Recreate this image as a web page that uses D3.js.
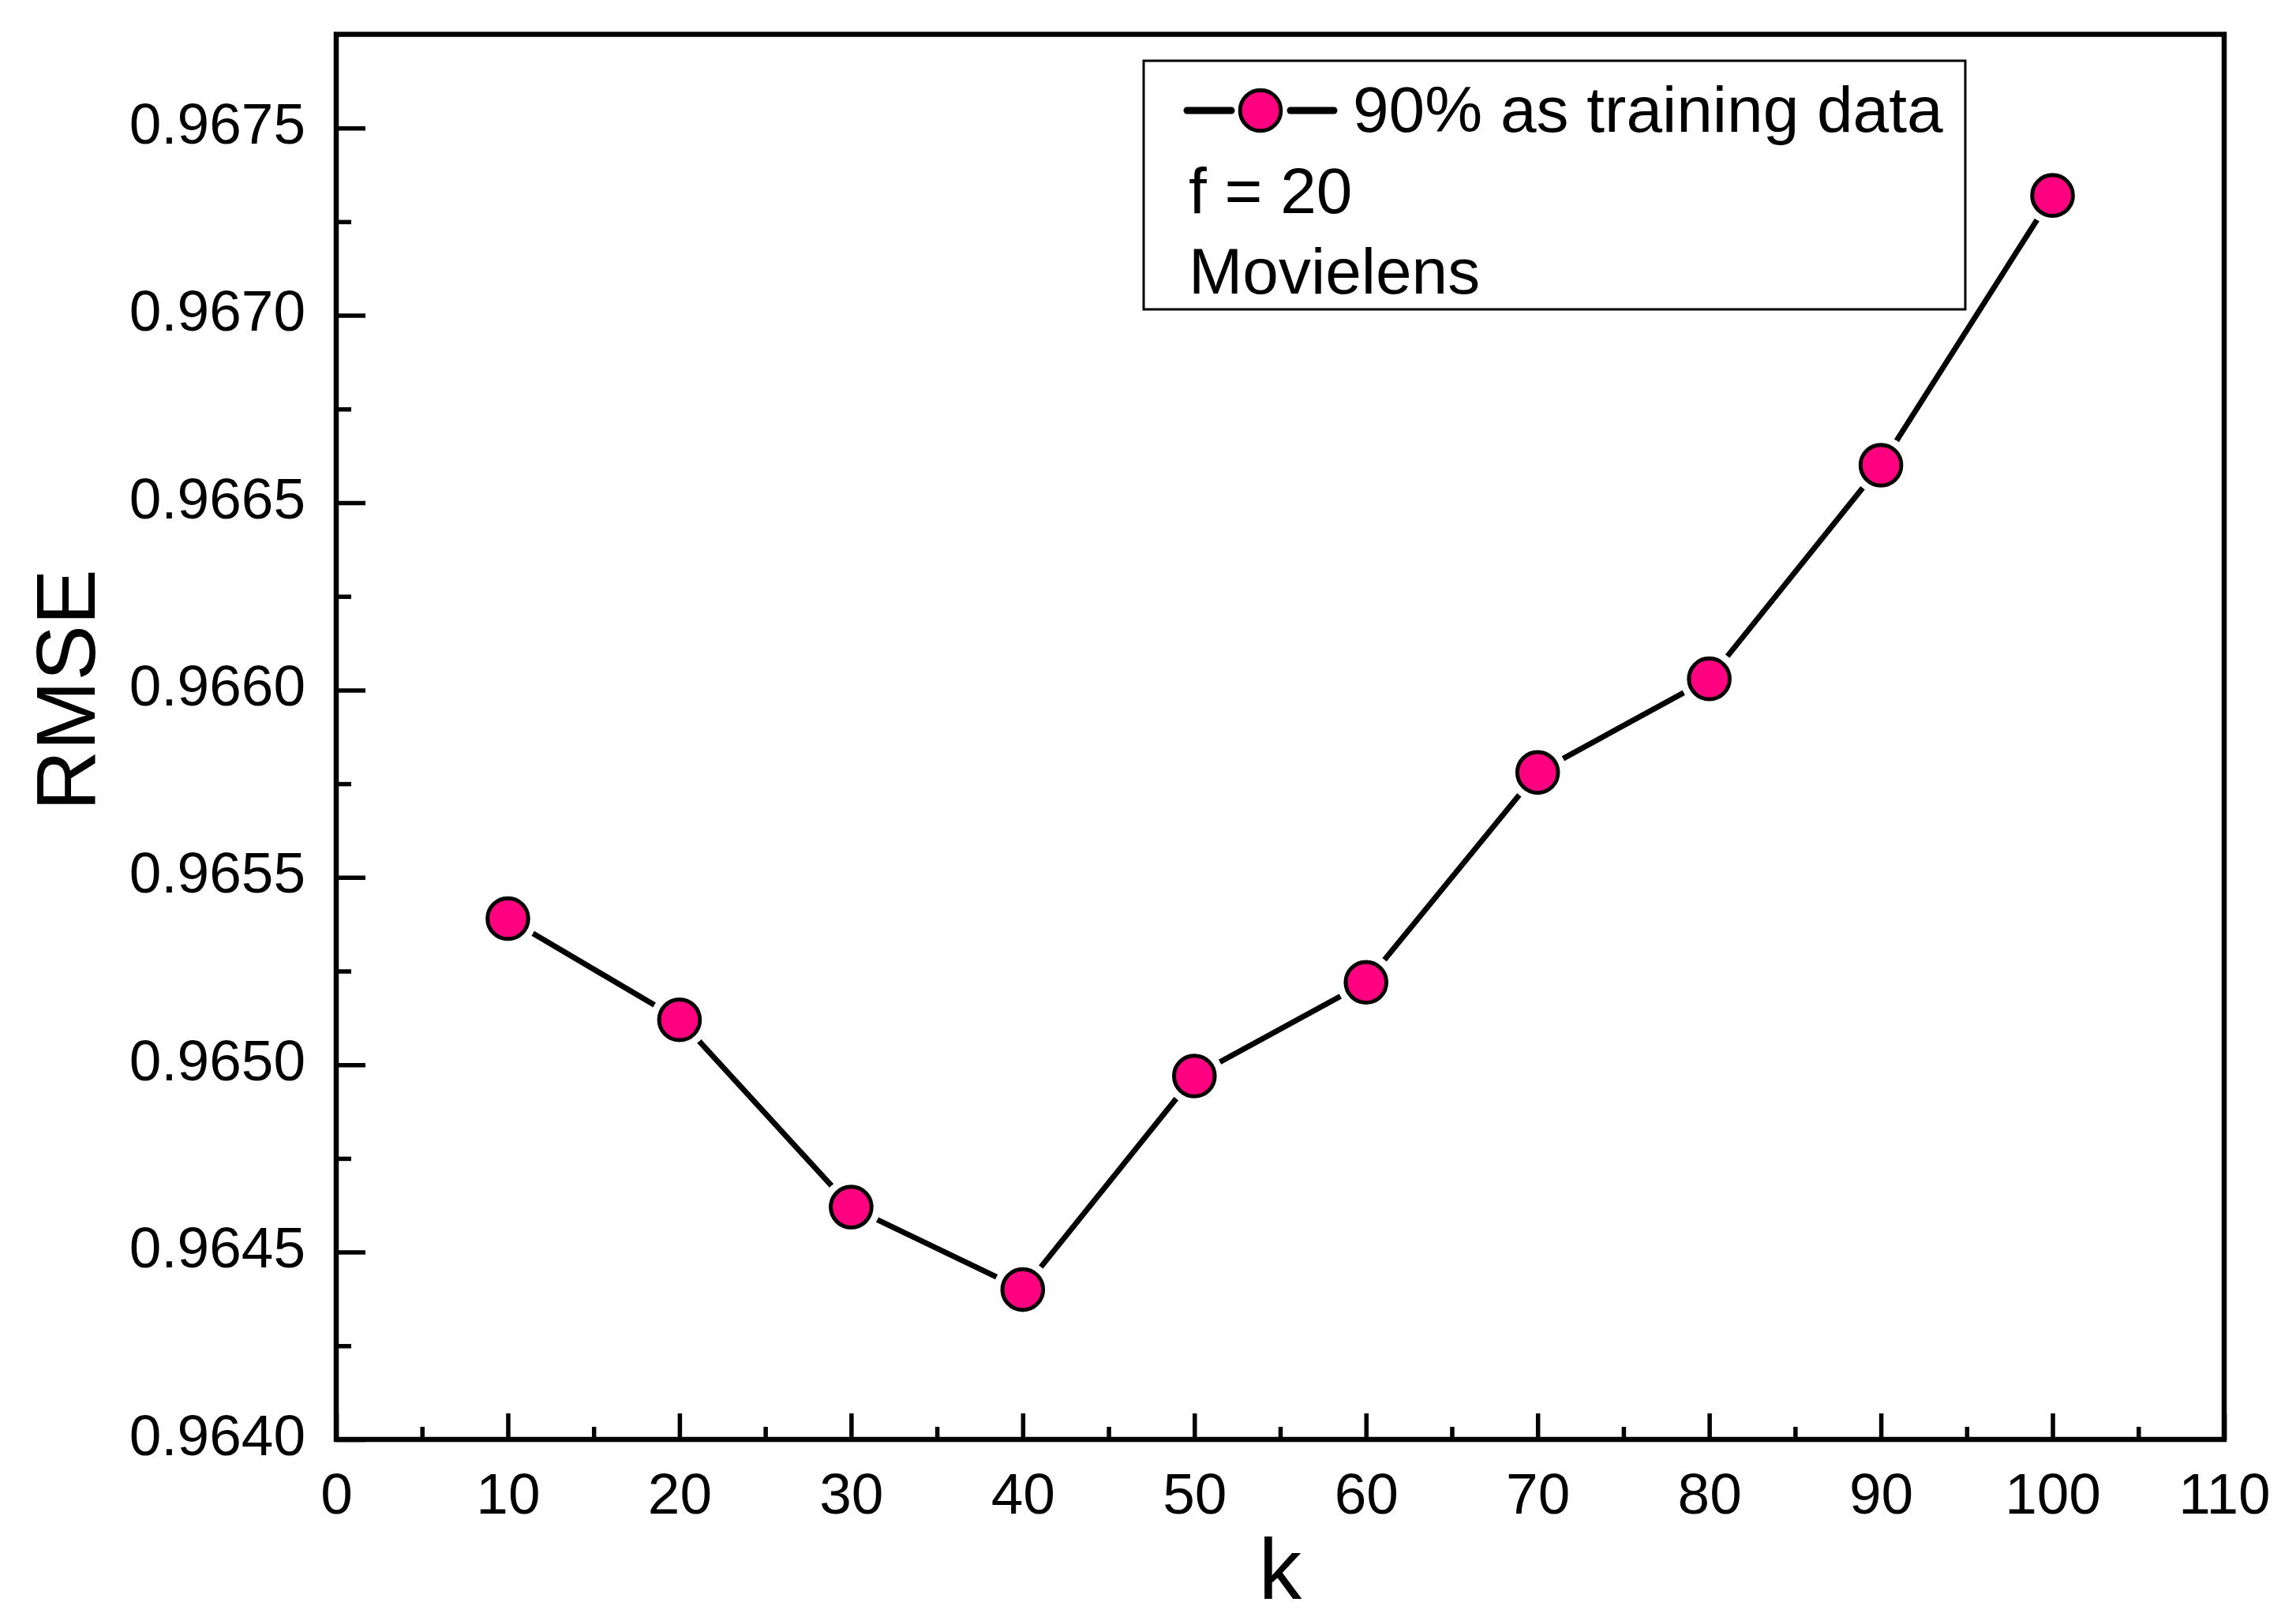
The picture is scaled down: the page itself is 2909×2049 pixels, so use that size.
<!DOCTYPE html>
<html>
<head>
<meta charset="utf-8">
<script src="https://cdn.jsdelivr.net/npm/d3@7"></script>
<style>
    body { margin: 0; background: #fff; }
    svg { display: block; }
    text { font-family: "Liberation Sans", Arial, sans-serif; fill: #000; }
</style>
</head>
<body>
<div id="chart"></div>
<script>
// Datos
const kValues = [10, 20, 30, 40, 50, 60, 70, 80, 90, 100];
const rmseValues = [0.96539, 0.96512, 0.96462, 0.96440, 0.96497, 0.96522, 0.96578, 0.96603, 0.96660, 0.96732];
const xMajorTicks = [0, 10, 20, 30, 40, 50, 60, 70, 80, 90, 100, 110];
const xMinorTicks = [5, 15, 25, 35, 45, 55, 65, 75, 85, 95, 105];
const yMajorTicks = [0.9640, 0.9645, 0.9650, 0.9655, 0.9660, 0.9665, 0.9670, 0.9675];
const yMinorTicks = [0.96425, 0.96475, 0.96525, 0.96575, 0.96625, 0.96675, 0.96725];
const legendLines = ['f = 20', 'Movielens'];
const seriesName = '90% as training data';

const width = 2909;
const height = 2049;
const margin = { left: 426, right: 2909 - 2818, top: 43.5, bottom: 2049 - 1824 };

const pink = '#ff0080';

const svg = d3.select('#chart').append('svg')
    .attr('width', width)
    .attr('height', height);

const x = d3.scaleLinear().domain([0, 110]).range([margin.left, width - margin.right]);
const y = d3.scaleLinear().domain([0.9640, 0.96775]).range([height - margin.bottom, margin.top]);

const data = kValues.map((k, i) => ({ k, v: rmseValues[i] }));

// Ejes con ticks hacia adentro
function drawAxis(axisGen, transform, fontSize) {
    const g = svg.append('g').attr('transform', transform).call(axisGen);
    g.select('.domain').remove();
    g.selectAll('line').attr('stroke', '#000').attr('stroke-width', 5.5);
    g.selectAll('text').attr('font-size', fontSize).attr('fill', '#000')
        .attr('font-family', '"Liberation Sans", Arial, sans-serif');
    return g;
}

const xAxis = drawAxis(
    d3.axisBottom(x).tickValues(xMajorTicks).tickSize(-33).tickPadding(0).tickFormat(d3.format('d')),
    `translate(0,${y(0.9640)})`, 73);
xAxis.selectAll('text').attr('dy', null).attr('y', 94);

drawAxis(
    d3.axisBottom(x).tickValues(xMinorTicks).tickSize(-16).tickFormat(''),
    `translate(0,${y(0.9640)})`, 73);

const yAxis = drawAxis(
    d3.axisLeft(y).tickValues(yMajorTicks).tickSize(-37).tickPadding(0).tickFormat(d3.format('.4f')),
    `translate(${x(0)},0)`, 73);
yAxis.selectAll('text').attr('x', -39).attr('dy', null).attr('y', 19);

drawAxis(
    d3.axisLeft(y).tickValues(yMinorTicks).tickSize(-19).tickFormat(''),
    `translate(${x(0)},0)`, 73);

// Marco del gráfico
svg.append('rect')
    .attr('x', x(0))
    .attr('y', y(0.96775))
    .attr('width', x(110) - x(0))
    .attr('height', y(0.9640) - y(0.96775))
    .attr('fill', 'none')
    .attr('stroke', '#000')
    .attr('stroke-width', 6.5);

// Títulos de ejes
svg.append('text')
    .attr('x', (x(0) + x(110)) / 2)
    .attr('y', 2026)
    .attr('text-anchor', 'middle')
    .attr('font-size', 109)
    .text('k');

svg.append('text')
    .attr('transform', `translate(120, ${y(0.9660)}) rotate(-90)`)
    .attr('text-anchor', 'middle')
    .attr('font-size', 106)
    .text('RMSE');

// Línea de la serie
const line = d3.line().x(d => x(d.k)).y(d => y(d.v));

svg.append('path')
    .datum(data)
    .attr('fill', 'none')
    .attr('stroke', '#000')
    .attr('stroke-width', 7)
    .attr('stroke-linejoin', 'round')
    .attr('d', line);

// Hueco blanco alrededor de los marcadores (estilo Origin)
svg.append('g').selectAll('circle')
    .data(data)
    .enter().append('circle')
    .attr('cx', d => x(d.k))
    .attr('cy', d => y(d.v))
    .attr('r', 37)
    .attr('fill', '#fff');

svg.append('g').selectAll('circle')
    .data(data)
    .enter().append('circle')
    .attr('cx', d => x(d.k))
    .attr('cy', d => y(d.v))
    .attr('r', 25.8)
    .attr('fill', pink)
    .attr('stroke', '#000')
    .attr('stroke-width', 5);

// Leyenda
const legend = svg.append('g');

legend.append('rect')
    .attr('x', 1449)
    .attr('y', 77)
    .attr('width', 2490 - 1449)
    .attr('height', 392 - 77)
    .attr('fill', '#fff')
    .attr('stroke', '#000')
    .attr('stroke-width', 3);

[[1504, 1560], [1635, 1690]].forEach(([a, b]) => {
    legend.append('line')
        .attr('x1', a).attr('x2', b)
        .attr('y1', 140).attr('y2', 140)
        .attr('stroke', '#000')
        .attr('stroke-width', 9)
        .attr('stroke-linecap', 'round');
});

legend.append('circle')
    .attr('cx', 1597).attr('cy', 140)
    .attr('r', 25.8)
    .attr('fill', pink)
    .attr('stroke', '#000')
    .attr('stroke-width', 5);

legend.append('text')
    .attr('x', 1714)
    .attr('y', 167)
    .attr('font-size', 82)
    .text(seriesName);

legend.selectAll('.note')
    .data(legendLines)
    .enter().append('text')
    .attr('class', 'note')
    .attr('x', 1506)
    .attr('y', (d, i) => 270 + i * 102)
    .attr('font-size', 82)
    .text(d => d);
</script>
</body>
</html>
